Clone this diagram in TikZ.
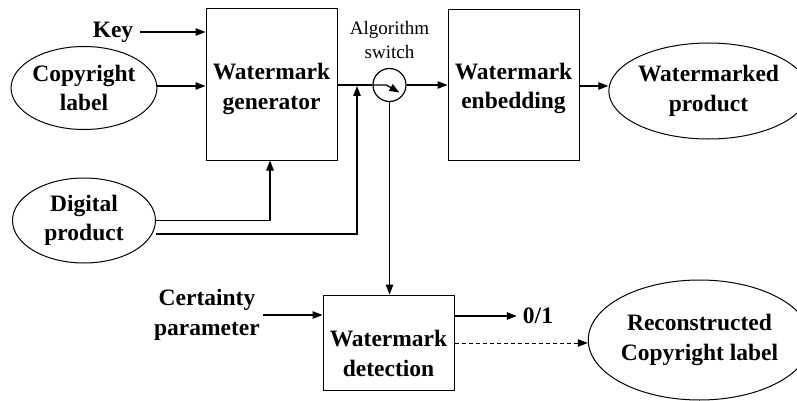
\documentclass[tikz,border=0pt]{standalone}
\usepackage{fontspec}
\setmainfont{Liberation Serif}
\usetikzlibrary{arrows.meta,shapes.geometric,calc}

\begin{document}
\begin{tikzpicture}[x=1pt,y=-1pt,
  every node/.style={font=\bfseries\fontsize{23.5}{29.5}\selectfont, align=center, inner sep=0pt},
  oval/.style={draw, ellipse, line width=1pt},
  block/.style={draw, rectangle, line width=1pt},
  arr/.style={line width=1.3pt, -{Triangle[length=10pt,width=7.5pt]}},
  smalltext/.style={font=\fontsize{19}{24}\selectfont}
]
\useasboundingbox (0,0) rectangle (797,401);

% ovals
\node[oval, minimum width=143pt, minimum height=83pt] (copy) at (84,88) {Copyright\\label};
\node[oval, minimum width=143pt, minimum height=85pt] (dig) at (84,220.5) {Digital\\product};
\node[oval, minimum width=177pt, minimum height=96pt] (wmp) at (708.5,91) {Watermarked\\product};
\node[oval, minimum width=194pt, minimum height=120pt] (rec) at (699.5,340) {Reconstructed\\Copyright label};

% processing blocks
\node[block, minimum width=131pt, minimum height=151pt] (gen) at (271.5,84.5) {};
\node (gentext) at (271.5,89) {Watermark\\generator};
\node[block, minimum width=131pt, minimum height=150pt] (emb) at (513.5,85) {};
\node (embtext) at (513.5,88.5) {Watermark\\enbedding};
\node[block, minimum width=131pt, minimum height=95pt] (det) at (388.5,342.5) {};
\node (dettext) at (388.5,353.5) {Watermark\\detection};

% algorithm switch
\node[draw, circle, line width=1.2pt, minimum size=33pt] (sw) at (389.5,85) {};
\node[smalltext] (swtext) at (389.5,40) {Algorithm\\switch};

% free texts
\node (key) at (113,32) {Key};
\node (cert) at (207,315) {Certainty\\parameter};
\node (out) at (538,316) {0/1};

\coordinate (j) at (357,86);

% connectors
\draw[arr] ($(key.east)+(7,0)$) -- ($(key.east -| gen.west)$);
\draw[arr] ($(copy.east)+(0,-2)$) -- ($(copy.east -| gen.west)+(0,-2)$);
\draw[line width=1.3pt] (gen.east |- sw.west) -- (sw.west);
\draw[arr] (sw.west) -- ++(14,0) -- ++(13,7.5);
\draw[arr] (dig.east) -| (gen.south -| 270,0);
\draw[arr] ($(dig.east)+(0,13.5)$) -| (j);
\draw[arr] (sw.east) -- (sw.east -| emb.west);
\draw[arr] (emb.east |- wmp.west) ++(0,-5) -- ($(wmp.west)+(0,-5)$);
\draw[arr] (sw.south) -- (sw.south |- det.north);
\draw[arr] ($(cert.east)+(3,0)$) -- (cert.east -| det.west);
\draw[arr] (det.east |- out.west) -- ($(out.west)+(-6,0)$);
\draw[arr, dash pattern=on 4pt off 3pt, line width=1pt] (det.east |- rec.west) ++(0,3) -- ($(rec.west)+(0,3)$);
\end{tikzpicture}
\end{document}
